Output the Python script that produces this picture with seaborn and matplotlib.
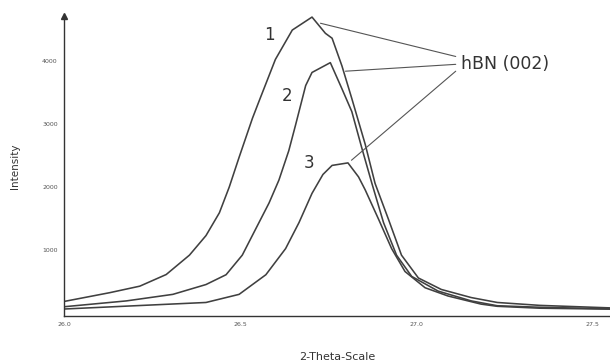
import numpy as np
import pandas as pd
import matplotlib
matplotlib.use("Agg")
import matplotlib.pyplot as plt
import seaborn as sns

# Data (2-theta in degrees, intensity in counts)
x1 = [26.00, 26.13, 26.215, 26.29, 26.356, 26.403, 26.441, 26.469, 26.497, 26.535, 26.554,
      26.60, 26.648, 26.704, 26.742, 26.761, 26.789, 26.817, 26.855, 26.883, 26.921, 26.958,
      27.006, 27.071, 27.156, 27.23, 27.35, 27.55]
y1 = [182, 322, 425, 610, 918, 1229, 1591, 2000, 2473, 3095, 3370,
      4028, 4495, 4701, 4443, 4365, 3924, 3406, 2680, 2058, 1488, 918,
      555, 373, 244, 166, 120, 80]

x2 = [26.00, 26.177, 26.309, 26.403, 26.46, 26.506, 26.544, 26.582, 26.61, 26.638, 26.657,
      26.686, 26.704, 26.756, 26.789, 26.817, 26.845, 26.874, 26.907, 26.944, 26.987, 27.062,
      27.156, 27.23, 27.35, 27.55]
y2 = [98, 191, 295, 451, 607, 918, 1333, 1747, 2110, 2577, 2980,
      3613, 3821, 3977, 3561, 3199, 2628, 2058, 1435, 918, 580, 347,
      191, 114, 90, 65]

x3 = [26.00, 26.403, 26.497, 26.573, 26.629, 26.667, 26.704, 26.735, 26.761, 26.806, 26.836,
      26.855, 26.893, 26.93, 26.968, 27.025, 27.09, 27.184, 27.23, 27.35, 27.55]
y3 = [62, 166, 295, 607, 1022, 1435, 1900, 2200, 2344, 2384, 2162,
      1955, 1488, 1022, 658, 400, 269, 140, 105, 75, 60]

series_names = ["1", "2", "3"]
x_ticks = [26.0, 26.5, 27.0, 27.5]
x_ticklabels = ["26.0", "26.5", "27.0", "27.5"]
y_ticks = [1000, 2000, 3000, 4000]
y_ticklabels = ["1000", "2000", "3000", "4000"]
annotation_text = "hBN (002)"

df = pd.concat([
    pd.DataFrame({"theta": x1, "I": y1, "s": series_names[0]}),
    pd.DataFrame({"theta": x2, "I": y2, "s": series_names[1]}),
    pd.DataFrame({"theta": x3, "I": y3, "s": series_names[2]}),
])

sns.set_style("white")
plt.rcParams['font.family'] = ['DejaVu Sans']

fig = plt.figure(figsize=(6.1, 3.61), dpi=100)
ax = fig.add_axes([0.105, 0.125, 0.895, 0.831])

sns.lineplot(data=df, x="theta", y="I", hue="s", units="s", estimator=None,
             palette=["#404040"] * 3, linewidth=1.15, legend=False, ax=ax, sort=False)

ax.set_xlim(26.0, 27.55)
ax.set_ylim(-47, 4720)
ax.set_xticks(x_ticks)
ax.set_xticklabels(x_ticklabels, fontsize=4.5, color="#555555")
ax.set_yticks(y_ticks)
ax.set_yticklabels(y_ticklabels, fontsize=4.5, color="#555555")
ax.tick_params(direction="inout", length=3, width=0.6, color="#555555", pad=3)
ax.set_xlabel("2-Theta-Scale", fontsize=8, color="#333333", labelpad=18)
ax.set_ylabel("Intensity", fontsize=7.5, color="#333333", labelpad=16)

for side in ["top", "right"]:
    ax.spines[side].set_visible(False)
for side in ["left", "bottom"]:
    ax.spines[side].set_color("#333333")
    ax.spines[side].set_linewidth(1.0)
ax.plot(0, 1, marker="^", color="#333333", markersize=4, transform=ax.transAxes, clip_on=False)

# curve numbers
ax.text(26.583, 4420, "1", fontsize=12, color="#333333", ha="center", va="center")
ax.text(26.633, 3450, "2", fontsize=12, color="#333333", ha="center", va="center")
ax.text(26.695, 2380, "3", fontsize=12, color="#333333", ha="center", va="center")

# hBN annotation with leader lines
tx, ty = 27.127, 3950
ax.text(tx, ty, annotation_text, fontsize=12.5, color="#333333", ha="left", va="center")
for (px, py), (qx, qy) in [((26.728, 4603), (27.112, 4075)),
                           ((26.799, 3841), (27.112, 3950)),
                           ((26.816, 2426), (27.112, 3841))]:
    ax.plot([px, qx], [py, qy], color="#555555", linewidth=0.8)

fig.savefig("out.png", dpi=100)
